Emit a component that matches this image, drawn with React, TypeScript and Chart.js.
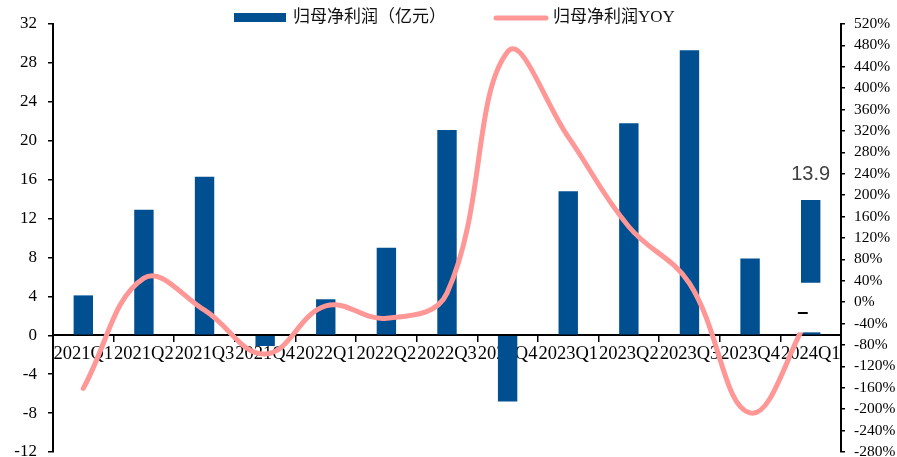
import React, { useEffect, useRef } from "react";
import { Chart, registerables } from "chart.js";

Chart.register(...registerables);

// ---- data ----
const categories = [
  "2021Q1", "2021Q2", "2021Q3", "2021Q4",
  "2022Q1", "2022Q2", "2022Q3", "2022Q4",
  "2023Q1", "2023Q2", "2023Q3", "2023Q4",
  "2024Q1",
];
const netProfit = [4.1, 12.9, 16.3, -1.1, 3.7, 9.0, 21.1, -6.8, 14.8, 21.8, 29.3, 7.9, 13.9];
const netProfitYoY = [-161, 45, -15, -97, -7, -30, 17, 468, 309, 141, 35, -207, -20];
const seriesNames = ["归母净利润（亿元）", "归母净利润YOY"];
const leftAxis = { min: -12, max: 32, step: 4 };
const rightAxis = { min: -280, max: 520, step: 40 };
const labelledBars = [12];
const maskedBar = 12;
const maskRange = [0.3, 5.4];
const maskText = "–";

const BAR_COLOR = "#004F91";
const LINE_COLOR = "#FF9797";
const SERIF = "'Liberation Serif', 'Times New Roman', serif";

const legendPlugin = {
  id: "customLegend",
  afterDraw(chart: any) {
    const ctx = chart.ctx;
    ctx.save();
    ctx.fillStyle = BAR_COLOR;
    ctx.fillRect(234, 13, 52, 9);
    ctx.font = "17px 'Liberation Serif', 'Noto Sans CJK SC', serif";
    ctx.textBaseline = "middle";
    ctx.textAlign = "left";
    ctx.fillStyle = "#111";
    ctx.fillText(seriesNames[0], 293, 18);
    ctx.strokeStyle = LINE_COLOR;
    ctx.lineWidth = 5;
    ctx.lineCap = "round";
    ctx.beginPath();
    ctx.moveTo(496, 18);
    ctx.lineTo(546, 18);
    ctx.stroke();
    ctx.fillText(seriesNames[1], 553, 18);
    ctx.restore();
  },
};

const maskPlugin = {
  id: "maskBox",
  afterDatasetsDraw(chart: any) {
    const ctx = chart.ctx;
    const x = chart.scales.x.getPixelForValue(maskedBar);
    const yTop = chart.scales.y.getPixelForValue(maskRange[1]);
    const yBot = chart.scales.y.getPixelForValue(maskRange[0]);
    ctx.save();
    ctx.fillStyle = "#fff";
    ctx.fillRect(x - 27, yTop, 41, yBot - yTop);
    const yDash = chart.scales.y1.getPixelForValue(netProfitYoY[maskedBar]);
    ctx.fillStyle = "#000";
    ctx.font = "bold 20px 'Liberation Sans', Arial, sans-serif";
    ctx.textAlign = "center";
    ctx.textBaseline = "middle";
    ctx.fillText(maskText, x - 8, yDash);
    ctx.restore();
  },
};

const valueLabelPlugin = {
  id: "valueLabels",
  afterDatasetsDraw(chart: any) {
    const ctx = chart.ctx;
    const meta = chart.getDatasetMeta(1);
    ctx.save();
    ctx.fillStyle = "#404040";
    ctx.font = "20px 'Liberation Sans', Arial, sans-serif";
    ctx.textAlign = "center";
    ctx.textBaseline = "bottom";
    labelledBars.forEach((i) => {
      const el = meta.data[i];
      ctx.fillText(String(netProfit[i]), el.x, el.y - 16);
    });
    ctx.restore();
  },
};

export default function App() {
  const ref = useRef<HTMLCanvasElement | null>(null);

  useEffect(() => {
    if (!ref.current) return;
    const chart = new Chart(ref.current, {
      type: "bar",
      data: {
        labels: categories,
        datasets: [
          {
            type: "line",
            label: seriesNames[1],
            data: netProfitYoY,
            yAxisID: "y1",
            borderColor: LINE_COLOR,
            backgroundColor: LINE_COLOR,
            borderWidth: 5,
            pointRadius: 0,
            tension: 0.4,
            borderCapStyle: "round",
            order: 0,
          } as any,
          {
            type: "bar",
            label: seriesNames[0],
            data: netProfit,
            yAxisID: "y",
            backgroundColor: BAR_COLOR,
            barPercentage: 0.32,
            categoryPercentage: 1,
            order: 1,
          },
        ],
      },
      options: {
        responsive: false,
        animation: false,
        devicePixelRatio: 1,
        layout: { padding: { top: 24, bottom: 5, left: 0, right: 0 } },
        plugins: {
          legend: { display: false },
          tooltip: { enabled: false },
        },
        scales: {
          x: {
            position: { y: 0 } as any,
            offset: true,
            grid: {
              offset: true,
              drawOnChartArea: false,
              drawTicks: true,
              tickLength: 6,
              color: "#000",
              lineWidth: 1.5,
            },
            border: { display: true, color: "#000", width: 2 },
            ticks: {
              autoSkip: false,
              maxRotation: 0,
              minRotation: 0,
              padding: 2,
              color: "#000",
              font: { family: SERIF, size: 18.5 },
            },
          },
          y: {
            position: "left",
            min: leftAxis.min,
            max: leftAxis.max,
            afterFit(scale: any) {
              scale.width = 53;
              scale.paddingTop = 0;
              scale.paddingBottom = 0;
            },
            grid: {
              drawOnChartArea: false,
              drawTicks: true,
              tickLength: 5,
              color: "#000",
              lineWidth: 1.5,
            },
            border: { display: true, color: "#000", width: 2 },
            ticks: {
              stepSize: leftAxis.step,
              autoSkip: false,
              padding: 11,
              color: "#000",
              font: { family: SERIF, size: 17 },
            },
          },
          y1: {
            position: "right",
            min: rightAxis.min,
            max: rightAxis.max,
            afterFit(scale: any) {
              scale.width = 56;
              scale.paddingTop = 0;
              scale.paddingBottom = 0;
            },
            grid: {
              drawOnChartArea: false,
              drawTicks: true,
              tickLength: 4,
              color: "#000",
              lineWidth: 1.5,
            },
            border: { display: true, color: "#000", width: 2 },
            ticks: {
              stepSize: rightAxis.step,
              autoSkip: false,
              padding: 9,
              color: "#000",
              font: { family: SERIF, size: 15.5 },
              callback: (v: any) => `${v}%`,
            },
          },
        },
      },
      plugins: [maskPlugin, valueLabelPlugin, legendPlugin],
    });
    return () => chart.destroy();
  }, []);

  return (
    <div style={{ position: "fixed", left: 0, top: 0, width: 897, height: 457, background: "#fff" }}>
      <canvas ref={ref} width={897} height={457} style={{ display: "block" }} />
    </div>
  );
}
